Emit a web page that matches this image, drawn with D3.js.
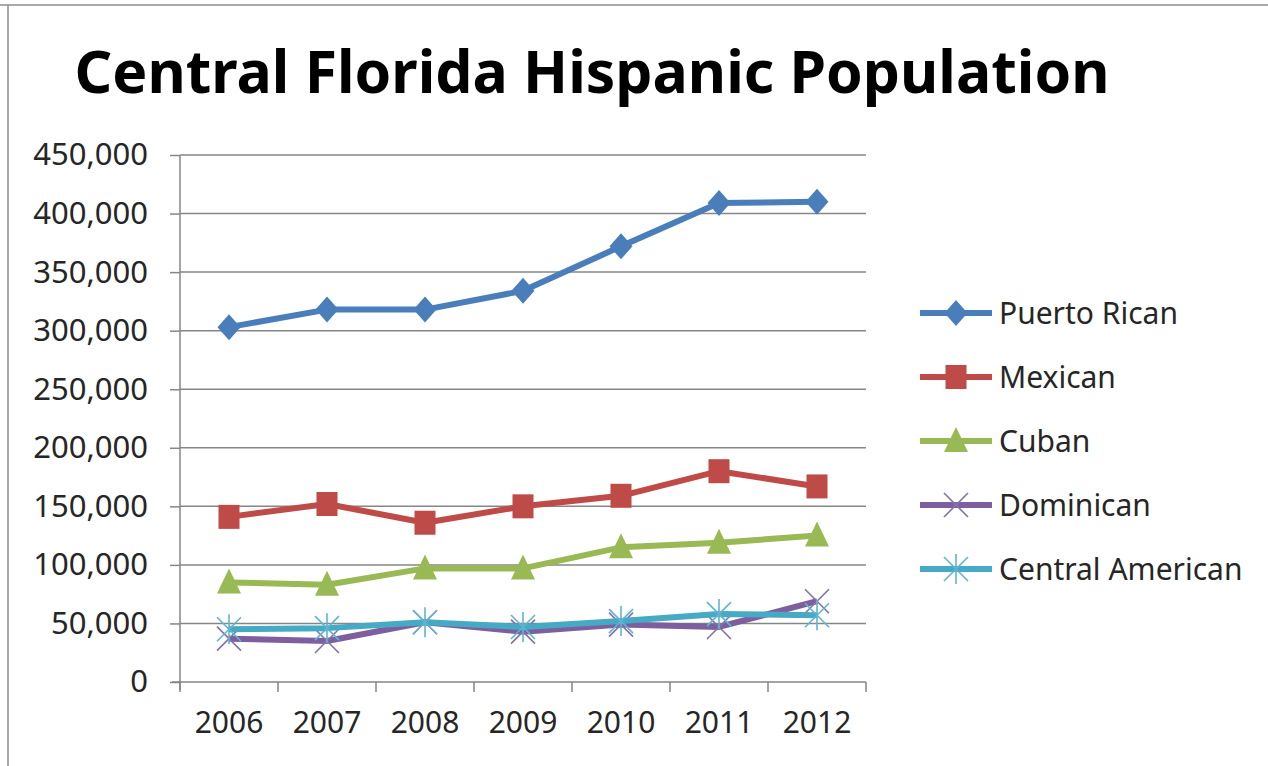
<!DOCTYPE html>
<html>
<head>
<meta charset="utf-8">
<script src="https://cdn.jsdelivr.net/npm/d3@7"></script>
<style>
  html, body { margin: 0; padding: 0; background: #fff; }
  svg { display: block; }
  text { font-family: "Noto Sans", "Open Sans", sans-serif; }
</style>
</head>
<body>
<svg id="chart" width="1268" height="766"></svg>
<script>
const years = ["2006", "2007", "2008", "2009", "2010", "2011", "2012"];
const seriesNames = ["Puerto Rican", "Mexican", "Cuban", "Dominican", "Central American"];
const puertoRican     = [303000, 318000, 318000, 334000, 372000, 409000, 410000];
const mexican         = [141000, 152000, 136000, 150000, 159000, 180000, 167000];
const cuban           = [85000, 83000, 97000, 97000, 115000, 119000, 125000];
const dominican       = [37000, 35000, 51000, 43000, 49000, 47000, 69000];
const centralAmerican = [45000, 46000, 51000, 47000, 52000, 58000, 57000];
const yTicks = [0, 50000, 100000, 150000, 200000, 250000, 300000, 350000, 400000, 450000];
const colors = ["#4a7ebb", "#be4b48", "#98b954", "#7d5fa0", "#46aac5"];
const markerTypes = ["diamond", "square", "triangle", "x", "star"];
const title = "Central Florida Hispanic Population";

const seriesValues = [puertoRican, mexican, cuban, dominican, centralAmerican];

const svg = d3.select("#chart");
const W = 1268, H = 766;
const plot = { left: 180, right: 866, top: 155, bottom: 682 };

// border
svg.append("line").attr("x1", 0).attr("x2", W).attr("y1", 5).attr("y2", 5)
  .attr("stroke", "#8c8c8c").attr("stroke-width", 1.5);
svg.append("line").attr("x1", 8).attr("x2", 8).attr("y1", 5).attr("y2", H)
  .attr("stroke", "#8c8c8c").attr("stroke-width", 1.5);

// title
svg.append("text")
  .attr("x", 592).attr("y", 93)
  .attr("text-anchor", "middle")
  .attr("font-weight", "bold")
  .attr("font-size", 59)
  .attr("fill", "#000")
  .attr("textLength", 1035)
  .attr("lengthAdjust", "spacingAndGlyphs")
  .text(title);

const x = d3.scaleBand().domain(years).range([plot.left, plot.right]).padding(0);
const y = d3.scaleLinear().domain([0, 450000]).range([plot.bottom, plot.top]);

// gridlines
svg.append("g").selectAll("line").data(yTicks.filter(d => d > 0)).join("line")
  .attr("x1", plot.left).attr("x2", plot.right)
  .attr("y1", d => y(d)).attr("y2", d => y(d))
  .attr("stroke", "#868686").attr("stroke-width", 1.5);

// y axis
const yAxis = svg.append("g").attr("transform", `translate(${plot.left},0)`)
  .call(d3.axisLeft(y).tickValues(yTicks).tickSize(10).tickPadding(22)
    .tickFormat(d3.format(",")));
yAxis.select(".domain").attr("stroke", "#868686").attr("stroke-width", 1.5)
  .attr("d", `M0,${plot.top}V${plot.bottom + 8}`);
yAxis.selectAll(".tick line").attr("stroke", "#868686").attr("stroke-width", 1.5);
yAxis.selectAll(".tick text").attr("font-size", 31).attr("fill", "#262626")
  .attr("font-family", "Noto Sans");

// x axis
const xAxis = svg.append("g").attr("transform", `translate(0,${plot.bottom})`)
  .call(d3.axisBottom(x).tickSize(0).tickPadding(30));
xAxis.select(".domain").attr("stroke", "#868686").attr("stroke-width", 1.5)
  .attr("d", `M${plot.left - 8},0H${plot.right}`);
xAxis.selectAll(".tick text").attr("font-size", 30).attr("fill", "#262626")
  .attr("font-family", "Noto Sans");
// category boundary ticks
const bounds = years.map(d => x(d)).concat([x(years[years.length - 1]) + x.bandwidth()]);
xAxis.selectAll(".bnd").data(bounds).join("line")
  .attr("x1", d => d).attr("x2", d => d).attr("y1", 0).attr("y2", 10)
  .attr("stroke", "#868686").attr("stroke-width", 1.5);

function drawMarker(g, type, color) {
  if (type === "diamond") {
    g.append("path").attr("d", "M0,-13L11.5,0L0,13L-11.5,0Z").attr("fill", color);
  } else if (type === "square") {
    g.append("rect").attr("x", -10.5).attr("y", -12).attr("width", 21).attr("height", 24).attr("fill", color);
  } else if (type === "triangle") {
    g.append("path").attr("d", "M0,-14L12,11L-12,11Z").attr("fill", color);
  } else if (type === "x") {
    g.append("path").attr("d", "M-12,-12L12,12M-12,12L12,-12")
      .attr("stroke", "#8272a8").attr("stroke-width", 1.6).attr("fill", "none");
  } else if (type === "star") {
    g.append("path").attr("d", "M-12,-12L12,12M-12,12L12,-12M0,-15L0,15")
      .attr("stroke", "#5fb5d0").attr("stroke-width", 1.6).attr("fill", "none");
  }
}

const line = d3.line().x((d, i) => x(years[i]) + x.bandwidth() / 2).y(d => y(d));

seriesValues.forEach((vals, si) => {
  const g = svg.append("g");
  g.append("path").datum(vals)
    .attr("d", line)
    .attr("fill", "none")
    .attr("stroke", colors[si])
    .attr("stroke-width", 6)
    .attr("stroke-linejoin", "round");
  vals.forEach((v, i) => {
    const mg = g.append("g").attr("transform", `translate(${x(years[i]) + x.bandwidth() / 2},${y(v)})`);
    drawMarker(mg, markerTypes[si], colors[si]);
  });
});

// legend
const legend = svg.append("g");
seriesNames.forEach((name, i) => {
  const cy = 313 + i * 64;
  const lg = legend.append("g").attr("transform", `translate(0,${cy})`);
  lg.append("line").attr("x1", 920).attr("x2", 992).attr("y1", 0).attr("y2", 0)
    .attr("stroke", colors[i]).attr("stroke-width", 6);
  const mg = lg.append("g").attr("transform", "translate(956,0)");
  drawMarker(mg, markerTypes[i], colors[i]);
  lg.append("text").attr("x", 999).attr("y", 0).attr("dy", "0.35em")
    .attr("font-size", 30).attr("fill", "#262626").text(name);
});
</script>
</body>
</html>
